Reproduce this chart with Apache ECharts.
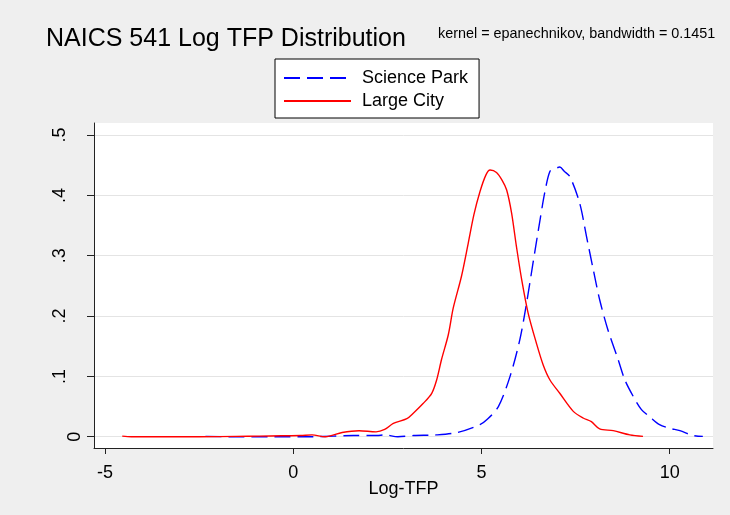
<!DOCTYPE html>
<html lang="en">

<head>
    <meta charset="UTF-8">
    <title>NAICS 541 Log TFP Distribution</title>
    <script src="https://cdn.jsdelivr.net/npm/echarts@6.0.0/dist/echarts.min.js"></script>
    <style>
        body { margin: 0; background: #efefef; }
    </style>
</head>

<body>
    <div id="main" style="width: 730px;height:515px;"></div>
    <script type="text/javascript">
        // kernel density estimates (x = log TFP, y = density)
        const scienceParkX = [-2.33, -1.5, -0.5, 0.5, 1.07, 1.6, 2.22, 2.43, 2.78, 3.2, 3.8, 4.36, 4.96, 5.14, 5.45,
            5.76, 6.02, 6.20, 6.37, 6.55, 6.68, 6.82, 6.95, 7.08, 7.2, 7.35, 7.61, 7.79, 7.97, 8.14, 8.36, 8.63,
            8.81, 9.03, 9.25, 9.47, 9.73, 10.0, 10.27, 10.62, 10.88];
        const scienceParkY = [0.0005, 0, 0, 0, 0.001, 0.002, 0.002, 0.003, 0, 0.002, 0.003, 0.007, 0.020, 0.028, 0.050,
            0.100, 0.161, 0.222, 0.288, 0.357, 0.404, 0.440, 0.444, 0.447, 0.440, 0.431, 0.387, 0.332, 0.277, 0.227, 0.177, 0.128,
            0.094, 0.067, 0.045, 0.033, 0.020, 0.014, 0.010, 0.002, 0.0005];

        const largeCityX = [-4.54, -4.3, -3.5, -2.5, -1.5, -0.9, -0.3, 0.2, 0.5, 0.85, 1.3, 1.75, 2.2, 2.43, 2.66,
            3.02, 3.19, 3.45, 3.68, 3.81, 3.94, 4.12, 4.25, 4.47, 4.65, 4.80, 4.96, 5.12, 5.23, 5.40, 5.55, 5.67,
            5.80, 5.93, 6.07, 6.24, 6.46, 6.64, 6.82, 7.08, 7.44, 7.70, 7.92, 8.14, 8.50, 8.94, 9.29];
        const largeCityY = [0.001, 0, 0, 0, 0.0005, 0.001, 0.0015, 0.002, 0.003, 0, 0.007, 0.010, 0.008, 0.012, 0.022,
            0.030, 0.039, 0.055, 0.072, 0.094, 0.128, 0.169, 0.213, 0.266, 0.321, 0.368, 0.406, 0.434, 0.442, 0.438, 0.425, 0.409,
            0.371, 0.315, 0.260, 0.205, 0.155, 0.119, 0.094, 0.072, 0.042, 0.031, 0.025, 0.013, 0.010, 0.003, 0.0005];

        const xTicks = [-5, 0, 5, 10];
        const yTicks = [0, 0.1, 0.2, 0.3, 0.4, 0.5];

        const font = "'Liberation Sans', Arial, sans-serif";

        // pair up x and y for the line series
        const pairs = (xs, ys) => xs.map((x, i) => [x, ys[i]]);

        let options = {
            backgroundColor: '#efefef',
            textStyle: { fontFamily: font },
            title: [
                {
                    text: 'NAICS 541 Log TFP Distribution',
                    left: 46, top: 27, padding: 0,
                    textStyle: { fontSize: 25, fontWeight: 'normal', color: '#000', fontFamily: font }
                },
                {
                    text: 'kernel = epanechnikov, bandwidth = 0.1451',
                    left: 438, top: 27, padding: 0,
                    textStyle: { fontSize: 14.4, fontWeight: 'normal', color: '#000', fontFamily: font }
                }
            ],
            legend: {
                orient: 'vertical',
                left: 275, top: 59,
                padding: [10, 11, 8, 8],
                itemWidth: 67, itemHeight: 18, itemGap: 5,
                backgroundColor: '#fff',
                borderColor: '#000', borderWidth: 1, borderRadius: 0,
                itemStyle: { opacity: 0 },
                textStyle: { fontSize: 18, color: '#000', fontFamily: font, padding: [0, 0, 0, 6] },
                data: ['Science Park', 'Large City']
            },
            grid: {
                left: 94, right: 17, top: 123, bottom: 67,
                show: true, backgroundColor: '#fff', borderWidth: 0
            },
            xAxis: {
                type: 'value', min: -5.29, max: 11.15,
                name: 'Log-TFP', nameLocation: 'middle', nameGap: 32, nameMoveOverlap: false,
                nameTextStyle: { fontSize: 18, color: '#000', fontFamily: font },
                axisLine: { onZero: false, lineStyle: { color: '#222', width: 1 } },
                axisTick: { customValues: xTicks, length: 6, lineStyle: { color: '#222' } },
                axisLabel: { customValues: xTicks, fontSize: 18, color: '#000', margin: 16, fontFamily: font },
                splitLine: { show: false }
            },
            yAxis: {
                type: 'value', min: -0.0187, max: 0.52,
                axisLine: { show: true, onZero: false, lineStyle: { color: '#222', width: 1 } },
                axisTick: { show: true, customValues: yTicks, length: 7, lineStyle: { color: '#222' } },
                axisLabel: {
                    customValues: yTicks, fontSize: 18, color: '#000', rotate: 90, margin: 10, fontFamily: font,
                    formatter: v => v === 0 ? '{z|0}' : '{d|' + String(v).replace(/^0\./, '.') + '}',
                    rich: {
                        z: { fontSize: 18, color: '#000', fontFamily: font },
                        d: { fontSize: 18, color: '#000', fontFamily: font, padding: [0, 0, 15, 0] }
                    }
                },
                splitLine: { show: true, lineStyle: { color: '#e4e4e4', width: 1 } }
            },
            series: [
                {
                    name: 'Science Park', type: 'line', symbol: 'none', smooth: 0.3,
                    lineStyle: { color: '#0000ff', width: 1.4, type: [16, 7] },
                    itemStyle: { color: '#0000ff' },
                    data: pairs(scienceParkX, scienceParkY)
                },
                {
                    name: 'Large City', type: 'line', symbol: 'none', smooth: 0.3,
                    lineStyle: { color: '#ff0000', width: 1.4 },
                    itemStyle: { color: '#ff0000' },
                    data: pairs(largeCityX, largeCityY)
                }
            ]
        };

        let myChart = echarts.init(document.getElementById('main'));
        myChart.setOption(options);
    </script>
</body>

</html>
